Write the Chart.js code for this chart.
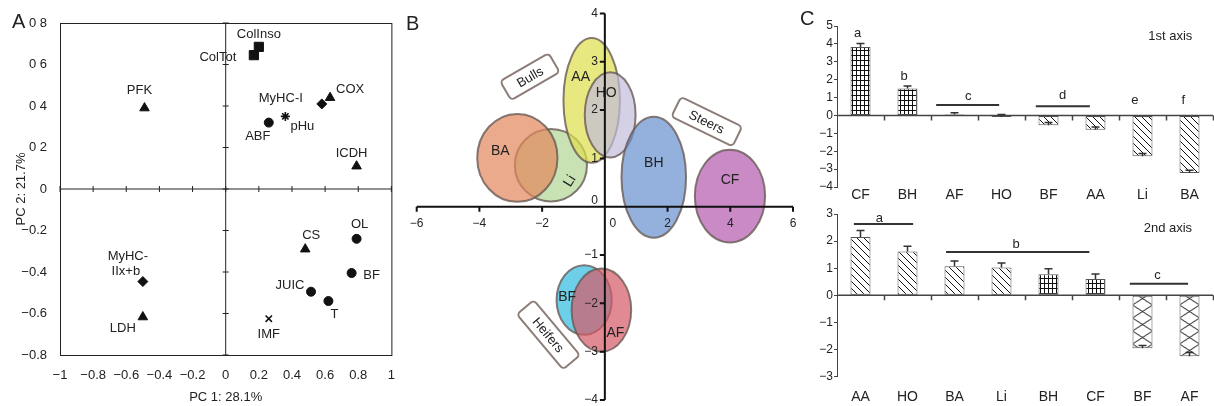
<!DOCTYPE html>
<html>
<head>
<meta charset="utf-8">
<script src="https://cdn.jsdelivr.net/npm/chart.js@4.4.1/dist/chart.umd.min.js"></script>
<style>
  body { margin: 0; background: #fff; }
  #fig { position: relative; width: 1214px; height: 406px; overflow: hidden; font-family: 'Liberation Sans', Arial, sans-serif; }
  #fig canvas { position: absolute; }
  .tag { position: absolute; font-size: 20px; line-height: 20px; color: #222; }
</style>
</head>
<body>
<div id="fig">
  <canvas id="pca" width="400" height="406" style="left:0;top:0"></canvas>
  <canvas id="scores" width="400" height="406" style="left:400px;top:0"></canvas>
  <canvas id="axis1" width="434" height="203" style="left:780px;top:0"></canvas>
  <canvas id="axis2" width="434" height="203" style="left:780px;top:203px"></canvas>
  <div class="tag" style="left:12px;top:11px">A</div>
  <div class="tag" style="left:406px;top:13px">B</div>
  <div class="tag" style="left:800px;top:8px">C</div>
</div>
<script>
// --- A: loadings on PC1 / PC2
const pcVars = ['ColInso', 'ColTot', 'PFK', 'COX', 'MyHC-I', 'pHu', 'ABF', 'ICDH',
                'CS', 'OL', 'BF', 'JUIC', 'T', 'IMF', 'MyHC-IIx+b', 'LDH'];
const pc1 = [0.20, 0.17, -0.49, 0.63, 0.58, 0.36, 0.26, 0.79, 0.48, 0.79, 0.76, 0.515, 0.62, 0.26, -0.50, -0.50];
const pc2 = [0.685, 0.645, 0.39, 0.44, 0.41, 0.35, 0.32, 0.11, -0.29, -0.24, -0.405, -0.495, -0.54, -0.625, -0.446, -0.617];
const pcXTicks = ['−1', '−0.8', '−0.6', '−0.4', '−0.2', '0', '0.2', '0.4', '0.6', '0.8', '1'];
const pcYTicks = ['−0.8', '−0.6', '−0.4', '−0.2', '0', '0 2', '0 4', '0 6', '0 8'];

// --- B: breed/sex groups on the score plot
const herds = ['Li', 'BA', 'AA', 'HO', 'BH', 'CF', 'BF', 'AF'];
const herdX = [-1.72, -2.79, -0.42, 0.17, 1.56, 3.99, -0.66, -0.11];
const herdY = [0.86, 1.01, 2.20, 1.90, 0.61, 0.22, -1.93, -2.14];
const herdRX = [1.15, 1.28, 0.90, 0.81, 1.03, 1.12, 0.88, 0.95];
const herdRY = [0.75, 0.91, 1.29, 0.88, 1.25, 0.96, 0.72, 0.86];
const sexGroups = ['Bulls', 'Steers', 'Heifers'];
const sexX = [-2.39, 3.25, -1.80];
const sexY = [2.69, 1.76, -2.65];
const scoreXTicks = [-6, -4, -2, 0, 2, 4, 6];
const scoreYTicks = [-4, -3, -2, -1, 0, 1, 2, 3, 4];

// --- C: mean scores per group on each axis
const cats1 = ['CF', 'BH', 'AF', 'HO', 'BF', 'AA', 'Li', 'BA'];
const vals1 = [3.82, 1.50, 0.05, -0.08, -0.55, -0.80, -2.28, -3.22];
const errs1 = [0.20, 0.15, 0.10, 0.13, 0.15, 0.15, 0.15, 0.15];
const yTicks1 = ['−4', '−3', '−2', '−1', '0', '1', '2', '3', '4', '5'];
const letters1 = [['a', -0.06, 4.58], ['b', 0.93, 2.2], ['c', 2.29, 1.04], ['d', 4.3, 1.13], ['e', 5.84, 0.85], ['f', 6.87, 0.85]];
const bars1 = [[1.61, 2.95, 0.58], [3.73, 4.88, 0.52]];

const cats2 = ['AA', 'HO', 'BA', 'Li', 'BH', 'CF', 'BF', 'AF'];
const vals2 = [2.15, 1.62, 1.07, 1.03, 0.78, 0.60, -1.95, -2.25];
const errs2 = [0.24, 0.19, 0.20, 0.16, 0.20, 0.19, 0.10, 0.14];
const yTicks2 = ['−3', '−2', '−1', '0', '1', '2', '3'];
const letters2 = [['a', 0.4, 2.85], ['b', 3.31, 1.88], ['c', 6.32, 0.74]];
const bars2 = [[-0.14, 1.12, 2.63], [1.82, 4.87, 1.6], [5.73, 6.97, 0.43]];

// styles
const FONT = "'Liberation Sans', Arial, sans-serif";
const INK = '#222';
Chart.defaults.font.family = FONT;
Chart.defaults.color = INK;
Chart.defaults.animation = false;
Chart.defaults.plugins.legend.display = false;
Chart.defaults.plugins.tooltip.enabled = false;

const pcMarker = {
  'ColInso': ['rect', 6.5], 'ColTot': ['rect', 6.5], 'PFK': ['triangle', 5.5], 'COX': ['triangle', 5.5],
  'MyHC-I': ['rectRot', 5], 'pHu': ['star', 4.5], 'ABF': ['circle', 4.5], 'ICDH': ['triangle', 5.5],
  'CS': ['triangle', 5.5], 'OL': ['circle', 4.5], 'BF': ['circle', 4.5], 'JUIC': ['circle', 4.5],
  'T': ['circle', 4.5], 'IMF': ['crossRot', 4.5], 'MyHC-IIx+b': ['rectRot', 5], 'LDH': ['triangle', 5.5]
};
// text offsets from the marker, in px
const pcLabel = {
  'ColInso': [['ColInso', 0, -12]], 'ColTot': [['ColTot', -36, 2]], 'PFK': [['PFK', -5, -18]],
  'COX': [['COX', 20, -8]], 'MyHC-I': [['MyHC-I', -41, -6]], 'pHu': [['pHu', 17, 10]],
  'ABF': [['ABF', -11, 14]], 'ICDH': [['ICDH', -5, -13]], 'CS': [['CS', 6, -14]],
  'OL': [['OL', 3, -14]], 'BF': [['BF', 20, 2]], 'JUIC': [['JUIC', -21, -6]], 'T': [['T', 6, 13]],
  'IMF': [['IMF', 0, 16]], 'MyHC-IIx+b': [['MyHC-', -15, -25], ['IIx+b', -17, -10]], 'LDH': [['LDH', -20, 11]]
};

const herdFill = {
  BA: 'rgba(226,134,91,0.7)', Li: 'rgba(176,213,148,0.7)', AA: 'rgba(222,222,76,0.7)',
  HO: 'rgba(194,188,219,0.7)', BH: 'rgba(101,144,205,0.7)', CF: 'rgba(178,89,174,0.7)',
  BF: 'rgba(49,186,224,0.7)', AF: 'rgba(214,88,101,0.7)'
};
const herdLabel = { AA: [-11, -23, 0], HO: [-4, -22, 0], BA: [-17, -7, 0], Li: [19, 16, -58],
                    BH: [0, -14, 0], CF: [0, -16, 0], BF: [-17, -3, 0], AF: [14, 23, 0] };
const sexBox = { Bulls: [56, 22, -30], Steers: [68, 22, 26], Heifers: [72, 22, 50] };

const fill1 = ['grid', 'grid', 'plain', 'plain', 'diag', 'diag', 'diag', 'diag'];
const fill2 = ['diag', 'diag', 'diag', 'diag', 'grid', 'grid', 'cross', 'cross'];

// ---------- A
const pcaFrame = {
  id: 'pcaFrame',
  beforeDatasetsDraw(chart) {
    const { ctx, chartArea: a, scales: { x, y } } = chart;
    const x0 = x.getPixelForValue(0), y0 = y.getPixelForValue(0);
    ctx.save();
    ctx.strokeStyle = '#222';
    ctx.lineWidth = 1;
    ctx.strokeRect(a.left + 0.5, a.top + 0.5, a.width, a.height);
    ctx.beginPath();
    ctx.moveTo(a.left, y0); ctx.lineTo(a.right, y0);
    ctx.moveTo(x0, a.top); ctx.lineTo(x0, a.bottom);
    x.ticks.forEach(t => {
      const px = x.getPixelForValue(t.value);
      ctx.moveTo(px, y0 - 3); ctx.lineTo(px, y0 + 3);
    });
    y.ticks.forEach(t => {
      const py = y.getPixelForValue(t.value);
      ctx.moveTo(x0 - 3, py); ctx.lineTo(x0 + 3, py);
    });
    ctx.stroke();
    ctx.restore();
  },
  afterDatasetsDraw(chart) {
    const { ctx, scales: { x, y } } = chart;
    ctx.save();
    ctx.fillStyle = INK;
    ctx.font = '13px ' + FONT;
    ctx.textAlign = 'center';
    ctx.textBaseline = 'middle';
    pcVars.forEach((v, i) => {
      const px = x.getPixelForValue(pc1[i]), py = y.getPixelForValue(pc2[i]);
      pcLabel[v].forEach(([txt, dx, dy]) => ctx.fillText(txt, px + dx, py + dy));
    });
    ctx.restore();
  }
};

new Chart(document.getElementById('pca'), {
  type: 'scatter',
  data: {
    datasets: [{
      data: pcVars.map((v, i) => ({ x: pc1[i], y: pc2[i] })),
      pointStyle: c => pcMarker[pcVars[c.dataIndex]][0],
      pointRadius: c => pcMarker[pcVars[c.dataIndex]][1],
      backgroundColor: '#111',
      borderColor: '#111',
      borderWidth: c => ['star', 'crossRot'].includes(pcMarker[pcVars[c.dataIndex]][0]) ? 1.6 : 1
    }]
  },
  options: {
    responsive: false,
    layout: { padding: { top: 23, right: 7 } },
    scales: {
      x: {
        type: 'linear', min: -1, max: 1,
        grid: { display: false }, border: { display: false },
        ticks: { stepSize: 0.2, padding: 5, autoSkip: false, maxRotation: 0, font: { size: 13 },
                 callback: (v, i) => pcXTicks[i] },
        title: { display: true, text: 'PC 1: 28.1%', font: { size: 13 }, padding: { top: 0, bottom: 1 } },
        afterFit(s) { s.height = 51; }
      },
      y: {
        min: -0.8, max: 0.8,
        grid: { display: false }, border: { display: false },
        ticks: { stepSize: 0.2, padding: 5, autoSkip: false, font: { size: 13 },
                 callback: (v, i) => pcYTicks[i] },
        title: { display: true, text: 'PC 2: 21.7%', font: { size: 13 }, padding: { top: 14 } },
        afterFit(s) { s.width = 60; }
      }
    }
  },
  plugins: [pcaFrame]
});

// ---------- B
function tagBox(ctx, cx, cy, w, h, ang, text) {
  ctx.save();
  ctx.translate(cx, cy);
  ctx.rotate(ang * Math.PI / 180);
  ctx.beginPath();
  ctx.roundRect(-w / 2, -h / 2, w, h, 4);
  ctx.fillStyle = '#fff';
  ctx.fill();
  ctx.lineWidth = 2;
  ctx.strokeStyle = '#8c7d78';
  ctx.stroke();
  ctx.fillStyle = INK;
  ctx.font = '13px ' + FONT;
  ctx.textAlign = 'center';
  ctx.textBaseline = 'middle';
  ctx.fillText(text, 0, 1);
  ctx.restore();
}

const scorePlot = {
  id: 'scorePlot',
  afterDraw(chart) {
    const { ctx, scales: { x, y } } = chart;
    const x0 = x.getPixelForValue(0), y0 = y.getPixelForValue(0);
    ctx.save();
    herds.forEach((h, i) => {
      const px = x.getPixelForValue(herdX[i]), py = y.getPixelForValue(herdY[i]);
      const rx = Math.abs(x.getPixelForValue(herdX[i] + herdRX[i]) - px);
      const ry = Math.abs(y.getPixelForValue(herdY[i] + herdRY[i]) - py);
      ctx.beginPath();
      ctx.ellipse(px, py, rx, ry, 0, 0, Math.PI * 2);
      ctx.fillStyle = herdFill[h];
      ctx.fill();
      ctx.lineWidth = 2;
      ctx.strokeStyle = 'rgba(105,90,85,0.8)';
      ctx.stroke();
    });
    ctx.fillStyle = INK;
    ctx.font = '14px ' + FONT;
    ctx.textAlign = 'center';
    ctx.textBaseline = 'middle';
    herds.forEach((h, i) => {
      const [dx, dy, rot] = herdLabel[h];
      ctx.save();
      ctx.translate(x.getPixelForValue(herdX[i]) + dx, y.getPixelForValue(herdY[i]) + dy);
      ctx.rotate(rot * Math.PI / 180);
      ctx.fillText(h, 0, 0);
      ctx.restore();
    });

    // axes through the origin
    ctx.strokeStyle = '#111';
    ctx.lineWidth = 2;
    ctx.beginPath();
    ctx.moveTo(x.getPixelForValue(-6), y0); ctx.lineTo(x.getPixelForValue(6), y0);
    ctx.moveTo(x0, y.getPixelForValue(4)); ctx.lineTo(x0, y.getPixelForValue(-4));
    scoreXTicks.forEach(v => {
      const px = x.getPixelForValue(v);
      ctx.moveTo(px, y0); ctx.lineTo(px, y0 + 5);
    });
    scoreYTicks.forEach(v => {
      if (v === 0) return;
      const py = y.getPixelForValue(v);
      ctx.moveTo(x0 - 5, py); ctx.lineTo(x0, py);
    });
    ctx.stroke();
    ctx.font = '12px ' + FONT;
    scoreXTicks.forEach(v => {
      const px = x.getPixelForValue(v) + (v === 0 ? 8 : 0);
      ctx.fillText(v < 0 ? '−' + (-v) : String(v), px, y0 + 17);
    });
    ctx.textAlign = 'right';
    scoreYTicks.forEach(v => {
      const py = y.getPixelForValue(v) - (v === 0 ? 6 : 0);
      ctx.fillText(v < 0 ? '−' + (-v) : String(v), x0 - 7, py);
    });

    sexGroups.forEach((g, i) => {
      const [w, h, a] = sexBox[g];
      tagBox(ctx, x.getPixelForValue(sexX[i]), y.getPixelForValue(sexY[i]), w, h, a, g);
    });
    ctx.restore();
  }
};

new Chart(document.getElementById('scores'), {
  type: 'scatter',
  data: { datasets: [{ data: herds.map((h, i) => ({ x: herdX[i], y: herdY[i] })), pointRadius: 0 }] },
  options: {
    responsive: false,
    layout: { padding: { left: 16.7, right: 7, top: 13.4, bottom: 6 } },
    scales: {
      x: { type: 'linear', min: -6, max: 6, display: false },
      y: { min: -4, max: 4, display: false }
    }
  },
  plugins: [scorePlot]
});

// ---------- C
function hatch(kind) {
  const w = kind === 'grid' ? 4 : kind === 'cross' ? 20 : 7;
  const h = kind === 'grid' ? 5 : kind === 'cross' ? 13 : 7;
  const c = document.createElement('canvas');
  c.width = w; c.height = h;
  const g = c.getContext('2d');
  g.fillStyle = '#fff';
  g.fillRect(0, 0, w, h);
  g.strokeStyle = '#111';
  g.lineWidth = 1;
  g.beginPath();
  if (kind === 'grid') {
    g.moveTo(0, 0.5); g.lineTo(w, 0.5);
    g.moveTo(0.5, 0); g.lineTo(0.5, h);
  } else if (kind === 'diag') {
    g.moveTo(-1, -1); g.lineTo(w + 1, h + 1);
  } else if (kind === 'cross') {
    g.moveTo(0, 0); g.lineTo(w, h);
    g.moveTo(w, 0); g.lineTo(0, h);
  }
  g.stroke();
  return c;
}
const tiles = { grid: hatch('grid'), diag: hatch('diag'), cross: hatch('cross') };

function barFill(c, fills) {
  const kind = fills[c.dataIndex];
  if (kind === 'plain' || !tiles[kind]) return '#fff';
  const pat = c.chart.ctx.createPattern(tiles[kind], 'repeat');
  const xs = c.chart.scales.x;
  if (kind === 'cross' && xs) {
    const left = xs.getPixelForValue(c.dataIndex) - 10;
    pat.setTransform(new DOMMatrix().translate(left, c.chart.chartArea ? c.chart.chartArea.top : 0));
  }
  return pat;
}

const barDecor = {
  id: 'barDecor',
  afterDatasetsDraw(chart, args, opts) {
    const { ctx, chartArea: a, scales: { x, y } } = chart;
    const y0 = y.getPixelForValue(0);
    ctx.save();
    // zero line with ticks between categories
    ctx.strokeStyle = '#444';
    ctx.lineWidth = 1.5;
    ctx.beginPath();
    ctx.moveTo(a.left, y0); ctx.lineTo(a.right, y0);
    for (let i = 0; i < opts.vals.length; i++) {
      const px = Math.round(x.getPixelForValue(i + 0.5)) + 0.5;
      ctx.moveTo(px, y0); ctx.lineTo(px, y0 + 5);
    }
    ctx.stroke();
    // error bars
    ctx.strokeStyle = '#333';
    ctx.lineWidth = 1.5;
    ctx.beginPath();
    opts.vals.forEach((v, i) => {
      const px = x.getPixelForValue(i);
      const p1 = y.getPixelForValue(v), p2 = y.getPixelForValue(v + opts.errs[i]);
      ctx.moveTo(px, p1); ctx.lineTo(px, p2);
      ctx.moveTo(px - 4, p2); ctx.lineTo(px + 4, p2);
    });
    ctx.stroke();
    // significance groups
    ctx.lineWidth = 2;
    ctx.beginPath();
    opts.bars.forEach(([s, e, v]) => {
      const py = y.getPixelForValue(v);
      ctx.moveTo(x.getPixelForValue(s), py); ctx.lineTo(x.getPixelForValue(e), py);
    });
    ctx.stroke();
    ctx.fillStyle = INK;
    ctx.textAlign = 'center';
    ctx.textBaseline = 'middle';
    ctx.font = '13px ' + FONT;
    opts.letters.forEach(([t, i, v]) => ctx.fillText(t, x.getPixelForValue(i), y.getPixelForValue(v)));
    ctx.fillText(opts.caption[0], x.getPixelForValue(opts.caption[1]), y.getPixelForValue(opts.caption[2]));
    ctx.restore();
  }
};

function barChart(id, cats, vals, errs, fills, yMin, yMax, yTicks, letters, bars, caption, box) {
  return new Chart(document.getElementById(id), {
    type: 'bar',
    data: {
      labels: cats,
      datasets: [{
        data: vals,
        backgroundColor: c => barFill(c, fills),
        borderColor: '#555',
        borderWidth: 1,
        borderSkipped: false,
        barPercentage: 0.425,
        categoryPercentage: 1
      }]
    },
    options: {
      responsive: false,
      layout: { padding: { top: box.top, right: 1 } },
      plugins: { barDecor: { vals, errs, letters, bars, caption } },
      scales: {
        x: {
          grid: { display: false, drawTicks: false }, border: { display: false },
          ticks: { padding: box.labelPad, font: { size: 14 }, maxRotation: 0, autoSkip: false },
          afterFit(s) { s.height = box.xh; }
        },
        y: {
          min: yMin, max: yMax,
          grid: { display: true, drawOnChartArea: false, drawTicks: true, tickLength: 3, color: '#444' },
          border: { display: true, color: '#444', width: 1 },
          ticks: { stepSize: 1, padding: 1, font: { size: 12 }, callback: (v, i) => yTicks[i] },
          afterFit(s) { s.width = 57; }
        }
      }
    },
    plugins: [barDecor]
  });
}

barChart('axis1', cats1, vals1, errs1, fill1, -4, 5, yTicks1, letters1, bars1,
         ['1st axis', 6.59, 4.39], { top: 26, xh: 16, labelPad: 0 });
barChart('axis2', cats2, vals2, errs2, fill2, -3, 3, yTicks2, letters2, bars2,
         ['2nd axis', 6.54, 2.46], { top: 11, xh: 29.3, labelPad: 11.6 });
</script>
</body>
</html>
